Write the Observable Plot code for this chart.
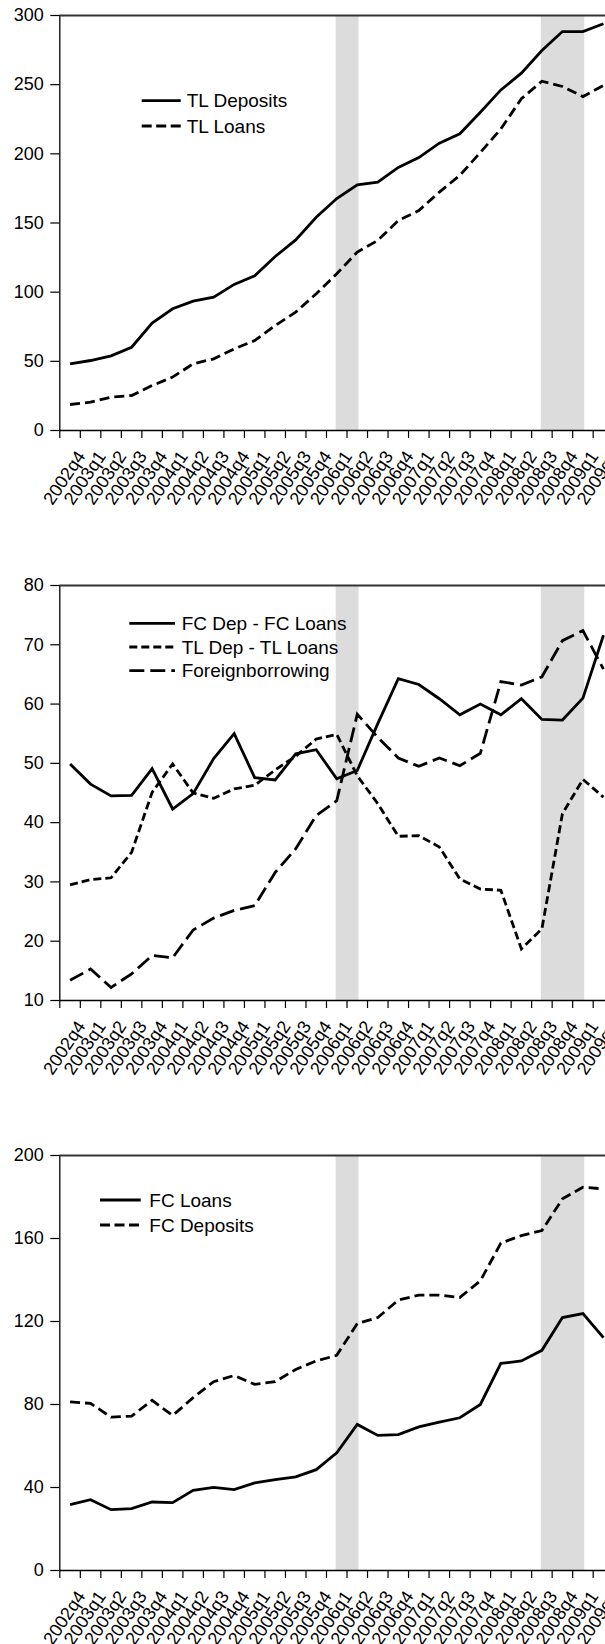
<!DOCTYPE html>
<html><head><meta charset="utf-8">
<script src="https://cdn.jsdelivr.net/npm/d3@7"></script>
<script src="https://cdn.jsdelivr.net/npm/@observablehq/plot@0.6"></script>
<style>
html,body{margin:0;padding:0;background:#fff;overflow:hidden;}
#wrap{width:605px;overflow:hidden;}
#wrap svg{display:block;overflow:hidden;}
</style></head><body><div id="wrap"></div>
<script>
const quarters = ["2002q4","2003q1","2003q2","2003q3","2003q4","2004q1","2004q2","2004q3","2004q4",
  "2005q1","2005q2","2005q3","2005q4","2006q1","2006q2","2006q3","2006q4","2007q1","2007q2","2007q3",
  "2007q4","2008q1","2008q2","2008q3","2008q4","2009q1","2009q2"];

const tlDeposits = [48.2,50.6,54,60.2,77.6,88,93.5,96.4,105.6,111.8,125.8,137.8,154.2,167.7,177.6,179.5,190.2,197.3,207.7,214.5,230,246.2,258.3,274.7,288.4,288.4,294];
const tlLoans = [18.8,20.5,24.1,25.3,32.5,38.6,48.2,51.8,59,65,75.9,85.6,98.8,113.3,129,137.4,151.8,159,172.3,184.4,201,218,239.8,252.5,248.7,241.4,249.4];

const fcDepMinusFcLoans = [49.9,46.5,44.5,44.6,49.1,42.3,44.9,50.8,55,47.6,47.2,51.6,52.3,47.4,48.8,56.7,64.3,63.3,60.9,58.2,60,58.2,60.9,57.4,57.3,61,71.6];
const tlDepMinusTlLoans = [29.5,30.4,30.7,35,45.1,49.9,45,44.1,45.7,46.3,48.9,51.2,54.1,54.9,47.9,43.2,37.7,37.8,35.9,30.5,28.8,28.6,18.7,22.1,41.5,47.3,44.3];
const foreignBorrowing = [13.4,15.3,12.2,14.5,17.6,17.2,21.9,23.9,25.2,26,31.6,35.6,41.2,43.7,58.3,54.4,50.9,49.5,50.9,49.6,51.7,63.8,63.2,64.6,70.7,72.4,65.9];

const fcLoans = [31.7,34.1,29.3,29.8,33,32.7,38.6,40.1,39,42.2,43.8,45.1,48.6,56.7,70.4,65.1,65.5,69.2,71.5,73.6,80,99.8,101,106.1,121.9,123.8,112.2];
const fcDeposits = [81.3,80.5,73.9,74.4,82,74.7,83.3,91,94,89.7,91,96.9,101,103.7,119,121.9,130.3,132.7,132.7,131.6,139.6,157.8,161.4,163.8,179.1,184.7,183.9];

// shaded periods (from quarter to quarter)
const shadedPeriods = [["2006q1","2006q2"],["2008q3","2009q1"]];

const FONT = "'Liberation Sans', Arial, Helvetica, sans-serif";

function panel({series, yDomain, yTicks, legend}) {
  const W = 605, H = 570, MT = 15, MB = 140, ML = 59.3, BAND = 20.515;
  const xRange = [ML, ML + BAND * quarters.length];
  const shades = shadedPeriods.map(([a, b]) => ({x1: quarters.indexOf(a) + 0.5, x2: quarters.indexOf(b) + 0.5}));
  const marks = [
    Plot.rect(shades, {x1: "x1", x2: "x2", fill: "#dcdcdc", insetLeft: -0.6, insetRight: -1.8}),
    ...series.map(s => Plot.line(s.values.map((v, i) => ({q: i + 0.5, v})), {
      x: "q", y: "v", stroke: "black", strokeWidth: 2.8, strokeDasharray: s.dash,
      strokeLinecap: "butt", strokeLinejoin: "miter", strokeMiterlimit: 4
    })),
    Plot.ruleX([0], {stroke: "black", strokeWidth: 1.3}),
    Plot.ruleY([yDomain[0]], {stroke: "black", strokeWidth: 1.3}),
    Plot.ruleY([yDomain[1]], {stroke: "#333", strokeWidth: 2}),
    Plot.axisY({ticks: yTicks, tickSize: 9, tickPadding: 7, label: null, fontSize: 18, stroke: "black", strokeWidth: 1.2}),
    Plot.axisX({ticks: d3.range(quarters.length), tickFormat: () => "", tickSize: 8, label: null, stroke: "black", strokeWidth: 1.2}),
    Plot.text(quarters, {x: (d, i) => i + 0.5, text: d => d, frameAnchor: "bottom", rotate: -56,
      textAnchor: "end", lineAnchor: "top", dy: 18.5, dx: 5.5, fontSize: 18, fill: "black"})
  ];
  const svg = Plot.plot({
    width: W, height: H,
    marginTop: MT, marginBottom: MB, marginLeft: ML, marginRight: W - xRange[1],
    style: {fontFamily: FONT, fontSize: "18px", background: "white", color: "black"},
    x: {domain: [0, quarters.length], range: xRange, axis: null},
    y: {domain: yDomain, range: [H - MB, MT], axis: null},
    marks
  });
  // legend inside the plot area
  const g = d3.select(svg).append("g").attr("font-family", FONT).attr("font-size", 19).attr("text-anchor", "start");
  legend.items.forEach((it, k) => {
    const y = legend.y + k * legend.dy;
    g.append("line").attr("x1", legend.x1).attr("x2", legend.x2).attr("y1", y).attr("y2", y)
      .attr("stroke", "black").attr("stroke-width", 2.8).attr("stroke-dasharray", it.dash || null);
    g.append("text").attr("x", legend.tx).attr("y", y).attr("dy", "0.35em").attr("fill", "black")
      .attr("text-anchor", "start").text(it.name);
  });
  return svg;
}

const wrap = document.getElementById("wrap");

wrap.appendChild(panel({
  series: [{values: tlDeposits}, {values: tlLoans, dash: "10,5"}],
  yDomain: [0, 300], yTicks: [0, 50, 100, 150, 200, 250, 300],
  legend: {x1: 141.7, x2: 180.7, tx: 186.7, y: 100.7, dy: 25.3,
    items: [{name: "TL Deposits"}, {name: "TL Loans", dash: "10,4.5"}]}
}));

wrap.appendChild(panel({
  series: [{values: fcDepMinusFcLoans}, {values: tlDepMinusTlLoans, dash: "8,4"}, {values: foreignBorrowing, dash: "15,6"}],
  yDomain: [10, 80], yTicks: [10, 20, 30, 40, 50, 60, 70, 80],
  legend: {x1: 129.3, x2: 175, tx: 181.7, y: 53.3, dy: 23.7,
    items: [{name: "FC Dep - FC Loans"}, {name: "TL Dep - TL Loans", dash: "8,4"}, {name: "Foreignborrowing", dash: "15,6"}]}
}));

wrap.appendChild(panel({
  series: [{values: fcLoans}, {values: fcDeposits, dash: "10,5"}],
  yDomain: [0, 200], yTicks: [0, 40, 80, 120, 160, 200],
  legend: {x1: 100, x2: 140.7, tx: 149.3, y: 60, dy: 25,
    items: [{name: "FC Loans"}, {name: "FC Deposits", dash: "10,4.5"}]}
}));
</script></body></html>
